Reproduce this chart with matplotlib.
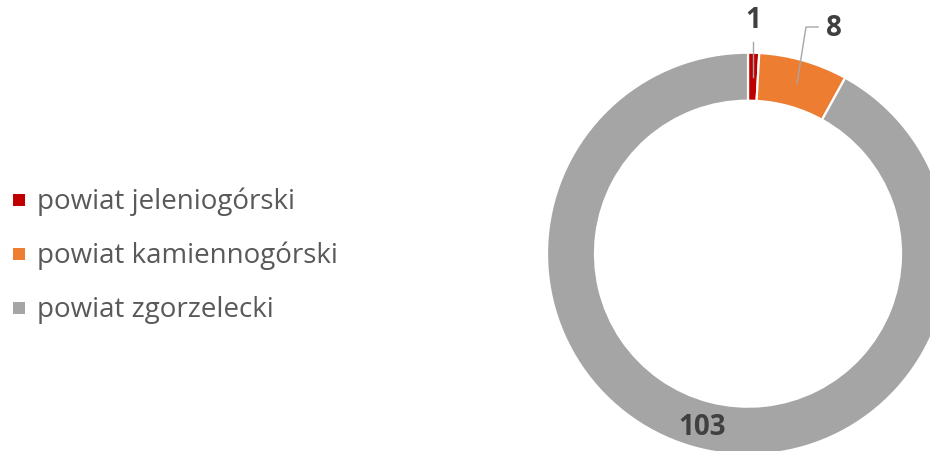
import numpy as np
import matplotlib.pyplot as plt
from matplotlib.patches import Rectangle

categories = ['powiat jeleniogórski', 'powiat kamiennogórski', 'powiat zgorzelecki']
values = [1, 8, 103]
colors = ['#C00000', '#ED7D31', '#A5A5A5']

W, H = 930, 451
fig = plt.figure(figsize=(W / 100, H / 100), dpi=100)
ax = fig.add_axes([0, 0, 1, 1])

# donut, in pixel coordinates (y measured from bottom)
cx, cy = 748, H - 253.7
r_out, ring = 201, 48
wedges, _ = ax.pie(values, colors=colors, startangle=90, counterclock=False,
                   center=(cx, cy), radius=r_out, frame=True,
                   wedgeprops=dict(width=ring, edgecolor='white', linewidth=1.6))
ax.set_xlim(0, W)
ax.set_ylim(0, H)
ax.set_aspect('equal')
ax.axis('off')

# data labels
label_font = dict(family=['Open Sans', 'DejaVu Sans'], fontsize=20,
                  fontweight='bold', color='#404040')
leader = dict(color='#A6A6A6', lw=1.0)
total = sum(values)
cum = np.cumsum([0] + values)
r_mid = r_out - ring / 2
for i, v in enumerate(values):
    ang = np.deg2rad(90 - 360 * (cum[i] + v / 2) / total)
    ax_, ay_ = cx + r_mid * np.cos(ang), cy + r_mid * np.sin(ang)
    if i == 0:
        ax.plot([ax_, ax_], [ay_, H - 42], **leader)
        ax.text(ax_, H - 20, str(v), ha='center', va='center', **label_font)
    elif i == 1:
        kx, ky = ax_ + 9, H - 27
        ax.plot([ax_, kx, kx + 12], [ay_, ky, ky], **leader)
        ax.text(kx + 20, ky - 1, str(v), ha='left', va='center', **label_font)
    else:
        ax.text(ax_ - 2, ay_ - 2, str(v), ha='center', va='center', **label_font)

# legend
row_y = [200, 254, 308]
for name, col, y in zip(categories, colors, row_y):
    ax.add_patch(Rectangle((13, H - y - 6), 12, 12, color=col, lw=0))
    ax.text(37, H - y - 9.5, name, ha='left', va='baseline', fontsize=20,
            family=['Open Sans', 'DejaVu Sans'], color='#595959')

fig.savefig('out.png', dpi=100)
